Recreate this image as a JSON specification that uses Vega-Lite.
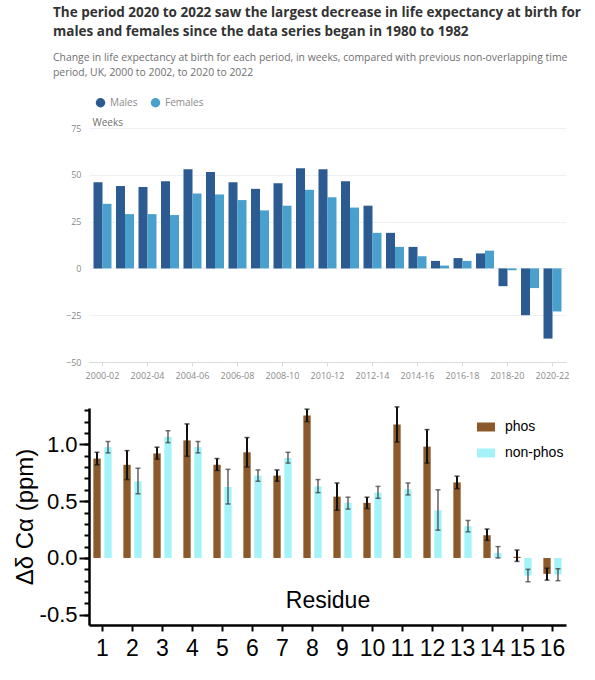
{
  "$schema": "https://vega.github.io/schema/vega-lite/v6.json",
  "padding": {"left": 13, "top": 6, "right": 5, "bottom": 0},
  "spacing": 25,
  "config": {"view": {"stroke": null}},
  "resolve": {
    "scale": {"x": "independent", "y": "independent", "xOffset": "independent", "color": "independent"},
    "axis": {"x": "independent", "y": "independent"},
    "legend": {"color": "independent"}
  },
  "vconcat": [
    {
      "title": {
        "text": ["The period 2020 to 2022 saw the largest decrease in life expectancy at birth for", "males and females since the data series began in 1980 to 1982"],
        "subtitle": ["Change in life expectancy at birth for each period, in weeks, compared with previous non-overlapping time", "period, UK, 2000 to 2002, to 2020 to 2022"],
        "anchor": "start",
        "frame": "group",
        "dx": -36,
        "font": "Open Sans",
        "fontSize": 13.5,
        "fontWeight": "bold",
        "color": "#333333",
        "lineHeight": 19,
        "subtitleFont": "Open Sans",
        "subtitleFontSize": 10.4,
        "subtitleColor": "#707070",
        "subtitleLineHeight": 15,
        "subtitlePadding": 14,
        "offset": 19
      },
      "width": 477,
      "height": 234,
      "data": {
        "values": [
          {"period": "2000-02", "sex": "Males", "weeks": 46},
          {"period": "2000-02", "sex": "Females", "weeks": 34.5},
          {"period": "2001-03", "sex": "Males", "weeks": 44},
          {"period": "2001-03", "sex": "Females", "weeks": 29},
          {"period": "2002-04", "sex": "Males", "weeks": 43.5},
          {"period": "2002-04", "sex": "Females", "weeks": 29},
          {"period": "2003-05", "sex": "Males", "weeks": 46.5},
          {"period": "2003-05", "sex": "Females", "weeks": 28.5},
          {"period": "2004-06", "sex": "Males", "weeks": 53},
          {"period": "2004-06", "sex": "Females", "weeks": 40},
          {"period": "2005-07", "sex": "Males", "weeks": 51.5},
          {"period": "2005-07", "sex": "Females", "weeks": 39.5},
          {"period": "2006-08", "sex": "Males", "weeks": 46},
          {"period": "2006-08", "sex": "Females", "weeks": 36.5},
          {"period": "2007-09", "sex": "Males", "weeks": 42.5},
          {"period": "2007-09", "sex": "Females", "weeks": 31},
          {"period": "2008-10", "sex": "Males", "weeks": 45.5},
          {"period": "2008-10", "sex": "Females", "weeks": 33.5},
          {"period": "2009-11", "sex": "Males", "weeks": 53.5},
          {"period": "2009-11", "sex": "Females", "weeks": 42},
          {"period": "2010-12", "sex": "Males", "weeks": 53},
          {"period": "2010-12", "sex": "Females", "weeks": 38},
          {"period": "2011-13", "sex": "Males", "weeks": 46.5},
          {"period": "2011-13", "sex": "Females", "weeks": 32.5},
          {"period": "2012-14", "sex": "Males", "weeks": 33.5},
          {"period": "2012-14", "sex": "Females", "weeks": 19},
          {"period": "2013-15", "sex": "Males", "weeks": 19},
          {"period": "2013-15", "sex": "Females", "weeks": 11.5},
          {"period": "2014-16", "sex": "Males", "weeks": 11.5},
          {"period": "2014-16", "sex": "Females", "weeks": 6.5},
          {"period": "2015-17", "sex": "Males", "weeks": 4},
          {"period": "2015-17", "sex": "Females", "weeks": 1.5},
          {"period": "2016-18", "sex": "Males", "weeks": 5.5},
          {"period": "2016-18", "sex": "Females", "weeks": 4},
          {"period": "2017-19", "sex": "Males", "weeks": 8},
          {"period": "2017-19", "sex": "Females", "weeks": 9.5},
          {"period": "2018-20", "sex": "Males", "weeks": -9.5},
          {"period": "2018-20", "sex": "Females", "weeks": -1},
          {"period": "2019-21", "sex": "Males", "weeks": -25},
          {"period": "2019-21", "sex": "Females", "weeks": -10.5},
          {"period": "2020-22", "sex": "Males", "weeks": -37.5},
          {"period": "2020-22", "sex": "Females", "weeks": -23}
        ]
      },
      "mark": {"type": "bar"},
      "encoding": {
        "x": {
          "field": "period",
          "type": "ordinal",
          "scale": {"paddingInner": 0.2, "paddingOuter": 0.2},
          "axis": {
            "title": null,
            "values": ["2000-02", "2002-04", "2004-06", "2006-08", "2008-10", "2010-12", "2012-14", "2014-16", "2016-18", "2018-20", "2020-22"],
            "labelAngle": 0,
            "labelFont": "Open Sans",
            "labelFontSize": 9,
            "labelColor": "#8a8a8a",
            "labelPadding": 5,
            "tickColor": "#d8dbe6",
            "tickSize": 4,
            "domainColor": "#d8dbe6"
          }
        },
        "xOffset": {"field": "sex", "type": "nominal", "sort": ["Males", "Females"], "scale": {"paddingInner": 0, "paddingOuter": 0}},
        "y": {
          "field": "weeks",
          "type": "quantitative",
          "scale": {"domain": [-50, 75], "nice": false},
          "axis": {
            "values": [-50, -25, 0, 25, 50, 75],
            "title": "Weeks",
            "titleAngle": 0,
            "titleAlign": "left",
            "titleBaseline": "alphabetic",
            "titleX": 3,
            "titleY": -3,
            "titleFont": "Open Sans",
            "titleFontSize": 10,
            "titleFontWeight": "normal",
            "titleColor": "#707070",
            "labelFont": "Open Sans",
            "labelFontSize": 9,
            "labelColor": "#8a8a8a",
            "labelPadding": 8,
            "ticks": false,
            "domain": false,
            "gridColor": "#eef0f5"
          }
        },
        "color": {
          "field": "sex",
          "type": "nominal",
          "sort": ["Males", "Females"],
          "scale": {"domain": ["Males", "Females"], "range": ["#2b5b90", "#4aa0cc"]},
          "legend": {
            "title": null,
            "orient": "none",
            "direction": "horizontal",
            "legendX": 6,
            "legendY": -31,
            "symbolType": "circle",
            "symbolSize": 90,
            "labelFont": "Open Sans",
            "labelFontSize": 10,
            "labelColor": "#8a8a8a",
            "columnPadding": 12,
            "padding": 0
          }
        }
      }
    },
    {
      "width": 477,
      "height": 217,
      "data": {
        "values": [
          {"residue": 1, "group": "phos", "value": 0.875, "lo": 0.82, "hi": 0.93},
          {"residue": 1, "group": "non-phos", "value": 0.975, "lo": 0.925, "hi": 1.025},
          {"residue": 2, "group": "phos", "value": 0.82, "lo": 0.69, "hi": 0.945},
          {"residue": 2, "group": "non-phos", "value": 0.675, "lo": 0.565, "hi": 0.79},
          {"residue": 3, "group": "phos", "value": 0.92, "lo": 0.87, "hi": 0.975},
          {"residue": 3, "group": "non-phos", "value": 1.065, "lo": 1.015, "hi": 1.12},
          {"residue": 4, "group": "phos", "value": 1.035, "lo": 0.895, "hi": 1.18},
          {"residue": 4, "group": "non-phos", "value": 0.975, "lo": 0.925, "hi": 1.025},
          {"residue": 5, "group": "phos", "value": 0.82, "lo": 0.77, "hi": 0.875},
          {"residue": 5, "group": "non-phos", "value": 0.625, "lo": 0.475, "hi": 0.78},
          {"residue": 6, "group": "phos", "value": 0.93, "lo": 0.8, "hi": 1.06},
          {"residue": 6, "group": "non-phos", "value": 0.725, "lo": 0.675, "hi": 0.775},
          {"residue": 7, "group": "phos", "value": 0.725, "lo": 0.675, "hi": 0.775},
          {"residue": 7, "group": "non-phos", "value": 0.88, "lo": 0.835, "hi": 0.93},
          {"residue": 8, "group": "phos", "value": 1.255, "lo": 1.2, "hi": 1.31},
          {"residue": 8, "group": "non-phos", "value": 0.63, "lo": 0.575, "hi": 0.69},
          {"residue": 9, "group": "phos", "value": 0.54, "lo": 0.42, "hi": 0.66},
          {"residue": 9, "group": "non-phos", "value": 0.485, "lo": 0.43, "hi": 0.535},
          {"residue": 10, "group": "phos", "value": 0.485, "lo": 0.435, "hi": 0.535},
          {"residue": 10, "group": "non-phos", "value": 0.575, "lo": 0.525, "hi": 0.63},
          {"residue": 11, "group": "phos", "value": 1.175, "lo": 1.02, "hi": 1.33},
          {"residue": 11, "group": "non-phos", "value": 0.605, "lo": 0.555, "hi": 0.66},
          {"residue": 12, "group": "phos", "value": 0.98, "lo": 0.835, "hi": 1.13},
          {"residue": 12, "group": "non-phos", "value": 0.42, "lo": 0.245, "hi": 0.6},
          {"residue": 13, "group": "phos", "value": 0.665, "lo": 0.61, "hi": 0.72},
          {"residue": 13, "group": "non-phos", "value": 0.28, "lo": 0.23, "hi": 0.33},
          {"residue": 14, "group": "phos", "value": 0.2, "lo": 0.155, "hi": 0.255},
          {"residue": 14, "group": "non-phos", "value": 0.045, "lo": 0.0, "hi": 0.1},
          {"residue": 15, "group": "phos", "value": 0.01, "lo": -0.03, "hi": 0.07},
          {"residue": 15, "group": "non-phos", "value": -0.155, "lo": -0.21, "hi": -0.1},
          {"residue": 16, "group": "phos", "value": -0.14, "lo": -0.195, "hi": -0.09},
          {"residue": 16, "group": "non-phos", "value": -0.145, "lo": -0.2, "hi": -0.095}
        ]
      },
      "resolve": {"axis": {"y": "independent"}},
      "encoding": {
        "x": {
          "field": "residue",
          "type": "ordinal",
          "scale": {"paddingInner": 0.39, "paddingOuter": 0.145},
          "axis": {
            "title": "Residue",
            "titleFont": "Liberation Sans",
            "titleFontSize": 23,
            "titleFontWeight": "normal",
            "titleColor": "#000000",
            "titleBaseline": "alphabetic",
            "titleY": -18,
            "labelAngle": 0,
            "labelFont": "Liberation Sans",
            "labelFontSize": 23,
            "labelColor": "#000000",
            "labelPadding": 6,
            "tickColor": "#000000",
            "tickWidth": 2,
            "tickSize": 6,
            "domainColor": "#000000",
            "domainWidth": 2.5
          }
        },
        "xOffset": {"field": "group", "type": "nominal", "sort": ["phos", "non-phos"], "scale": {"paddingInner": 0.33, "paddingOuter": 0}}
      },
      "layer": [
        {
          "mark": {"type": "bar"},
          "encoding": {
            "y": {
              "field": "value",
              "type": "quantitative",
              "scale": {"domain": [-0.59, 1.32], "nice": false, "zero": false},
              "axis": {
                "orient": "left",
                "title": "Δδ Cα (ppm)",
                "titleFont": "Liberation Sans",
                "titleFontSize": 24,
                "titleFontWeight": "normal",
                "titleColor": "#000000",
                "titlePadding": 2,
                "values": [-0.5, 0, 0.5, 1.0],
                "format": ".1f",
                "labelExpr": "replace(datum.label, '−', '-')",
                "labelFont": "Liberation Sans",
                "labelFontSize": 22,
                "labelColor": "#000000",
                "labelPadding": 2,
                "tickSize": 10,
                "tickColor": "#000000",
                "tickWidth": 2,
                "domainColor": "#000000",
                "domainWidth": 2.5,
                "grid": false
              }
            },
            "color": {
              "field": "group",
              "type": "nominal",
              "sort": ["phos", "non-phos"],
              "scale": {"domain": ["phos", "non-phos"], "range": ["#8c5a2a", "#a4f3f8"]},
              "legend": {
                "title": null,
                "orient": "none",
                "legendX": 388,
                "legendY": 10,
                "symbolType": "M-1,-0.5H1V0.5H-1Z",
                "symbolSize": 324,
                "symbolStrokeWidth": 0,
                "labelFont": "Liberation Sans",
                "labelFontSize": 14,
                "labelColor": "#000000",
                "labelOffset": 10,
                "rowPadding": 10,
                "padding": 0
              }
            }
          }
        },
        {
          "mark": {"type": "rule"},
          "encoding": {
            "y": {
              "field": "lo",
              "type": "quantitative",
              "axis": {
                "orient": "left",
                "title": null,
                "values": [-0.5, -0.4, -0.3, -0.2, -0.1, 0, 0.1, 0.2, 0.3, 0.4, 0.5, 0.6, 0.7, 0.8, 0.9, 1.0, 1.1, 1.2, 1.3],
                "labels": false,
                "domain": false,
                "grid": false,
                "tickSize": 5,
                "tickColor": "#000000",
                "tickWidth": 2
              }
            },
            "y2": {"field": "hi"},
            "color": {"condition": {"test": "datum.group === 'phos'", "value": "#111111"}, "value": "#3a3a3a"},
            "strokeWidth": {"condition": {"test": "datum.group === 'phos'", "value": 2}, "value": 1.2}
          }
        },
        {
          "mark": {"type": "tick", "size": 5, "thickness": 1.5},
          "encoding": {
            "y": {"field": "lo", "type": "quantitative", "axis": null},
            "color": {"condition": {"test": "datum.group === 'phos'", "value": "#111111"}, "value": "#3a3a3a"}
          }
        },
        {
          "mark": {"type": "tick", "size": 5, "thickness": 1.5},
          "encoding": {
            "y": {"field": "hi", "type": "quantitative", "axis": null},
            "color": {"condition": {"test": "datum.group === 'phos'", "value": "#111111"}, "value": "#3a3a3a"}
          }
        },
        {
          "mark": {"type": "rule", "color": "#000000", "strokeWidth": 2.5},
          "encoding": {"y": {"datum": 0, "axis": null}}
        }
      ]
    }
  ]
}
